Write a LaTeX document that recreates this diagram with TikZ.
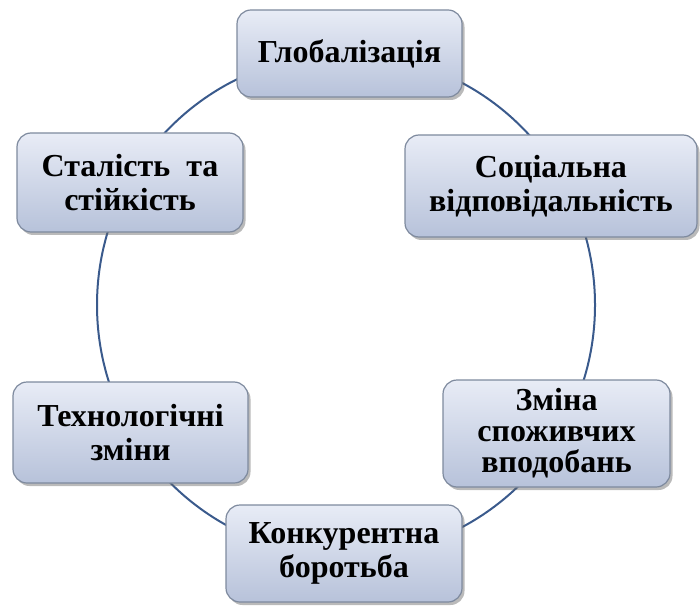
\documentclass[tikz,border=0pt]{standalone}
\usepackage{fontspec}
\setmainfont{Liberation Serif}
\usetikzlibrary{shadows}
\definecolor{ringblue}{HTML}{3A5A8C}
\definecolor{boxtop}{HTML}{E8ECF6}
\definecolor{boxbot}{HTML}{B7C2DA}
\definecolor{boxline}{HTML}{7E8A9E}
\tikzset{
  stagebox/.style={draw=boxline, line width=1.2pt, rounded corners=14pt,
    top color=boxtop, bottom color=boxbot, align=center,
    font=\bfseries\fontsize{32}{34}\selectfont, inner sep=0pt,
    drop shadow={opacity=0.45, shadow xshift=2.5pt, shadow yshift=-3pt, fill=black!60}},
  ring/.style={draw=ringblue, line width=2pt}
}
\begin{document}
\begin{tikzpicture}[x=1pt,y=-1pt]
\useasboundingbox (0,0) rectangle (700,609);
\coordinate (ctr) at (346,305);
\draw[ring] (ctr) ellipse [x radius=249, y radius=251];
\node[stagebox, minimum width=225pt, minimum height=87pt] (glob) at (349.5,53.5) {Глобалізація};
\node[stagebox, minimum width=292pt, minimum height=102pt] (soc) at (551,186) {Соціальна\\відповідальність};
\node[stagebox, minimum width=227pt, minimum height=107pt, font=\bfseries\fontsize{32}{31}\selectfont] (zmina) at (556.5,433.5) {Зміна\\споживчих\\вподобань};
\node[stagebox, minimum width=236pt, minimum height=97pt] (konk) at (344,553.5) {Конкурентна\\боротьба};
\node[stagebox, minimum width=235pt, minimum height=101pt] (tech) at (130.5,432.5) {Технологічні\\зміни};
\node[stagebox, minimum width=226pt, minimum height=99pt] (stal) at (130,182.5) {Сталість\ \ та\\стійкість};
\end{tikzpicture}
\end{document}
